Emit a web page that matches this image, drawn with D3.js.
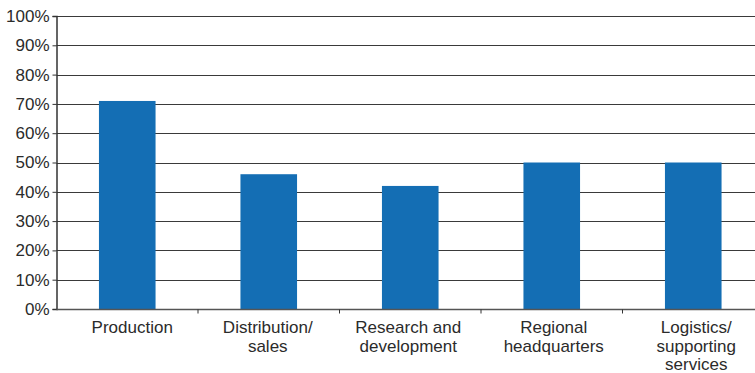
<!DOCTYPE html>
<html>
<head>
<meta charset="utf-8">
<script src="https://cdn.jsdelivr.net/npm/d3@7"></script>
<style>
  body { margin: 0; background: #fff; }
  svg { display: block; font-family: "Liberation Sans", Arial, sans-serif; }
</style>
</head>
<body>
<script>
var categories = [
  ["Production"],
  ["Distribution/", "sales"],
  ["Research and", "development"],
  ["Regional", "headquarters"],
  ["Logistics/", "supporting", "services"]
];
var values = [71, 46, 42, 50, 50];
var yTicks = [0, 10, 20, 30, 40, 50, 60, 70, 80, 90, 100];

var width = 755, height = 373;
var margin = {left: 56.5, top: 16, bottom: 64};
// small horizontal nudges of the category labels as in the original
var labelShift = [5, -1, -2, 2, 3];

var svg = d3.select("body").append("svg")
  .attr("width", width).attr("height", height);

var y = d3.scaleLinear().domain([0, 100]).range([height - margin.bottom, margin.top]);
var x = d3.scaleBand().domain(d3.range(categories.length))
  .range([margin.left, margin.left + 5 * 141.5]).paddingInner(0.6).paddingOuter(0.3);

// gridlines
svg.append("g").selectAll("line")
  .data(yTicks.filter(function(d){ return d > 0; }))
  .enter().append("line")
  .attr("x1", margin.left).attr("x2", width)
  .attr("y1", function(d){ return Math.round(y(d)) + 0.5; })
  .attr("y2", function(d){ return Math.round(y(d)) + 0.5; })
  .attr("stroke", "#3a3a3a").attr("stroke-width", 1);

// bars
svg.append("g").selectAll("rect")
  .data(values)
  .enter().append("rect")
  .attr("x", function(d, i){ return x(i); })
  .attr("width", x.bandwidth())
  .attr("y", function(d){ return y(d); })
  .attr("height", function(d){ return y(0) - y(d); })
  .attr("fill", "#146eb4");

// y axis
var yAxis = d3.axisLeft(y).tickValues(yTicks).tickSize(4).tickPadding(3)
  .tickFormat(function(d){ return d + "%"; });
var gy = svg.append("g").attr("transform", "translate(" + margin.left + ",0)").call(yAxis);
gy.select(".domain").attr("stroke", "#333").attr("stroke-width", 1.5);
gy.selectAll(".tick line").attr("stroke", "#333");
gy.selectAll("text").attr("fill", "#2b2b2b").style("font-size", "17px")
  .style("font-family", "'Liberation Sans', Arial, sans-serif");

// x axis line and ticks between categories
var baseY = Math.round(y(0)) + 0.5;
svg.append("line").attr("x1", margin.left).attr("x2", width)
  .attr("y1", baseY).attr("y2", baseY).attr("stroke", "#555").attr("stroke-width", 1.5);
svg.append("g").selectAll("line")
  .data(d3.range(1, categories.length))
  .enter().append("line")
  .attr("x1", function(i){ return x(i) - x.step() * x.paddingInner() / 2; })
  .attr("x2", function(i){ return x(i) - x.step() * x.paddingInner() / 2; })
  .attr("y1", baseY).attr("y2", baseY + 4)
  .attr("stroke", "#333");

// category labels
var labels = svg.append("g").selectAll("text")
  .data(categories)
  .enter().append("text")
  .attr("text-anchor", "middle")
  .attr("fill", "#2b2b2b")
  .style("font-size", "17px")
  .attr("x", function(d, i){ return x(i) + x.bandwidth() / 2 + labelShift[i]; })
  .attr("y", 333);
labels.selectAll("tspan")
  .data(function(d){ return d; })
  .enter().append("tspan")
  .attr("x", function(){ return d3.select(this.parentNode).attr("x"); })
  .attr("dy", function(d, i){ return i === 0 ? 0 : 18.7; })
  .text(function(d){ return d; });
</script>
</body>
</html>
